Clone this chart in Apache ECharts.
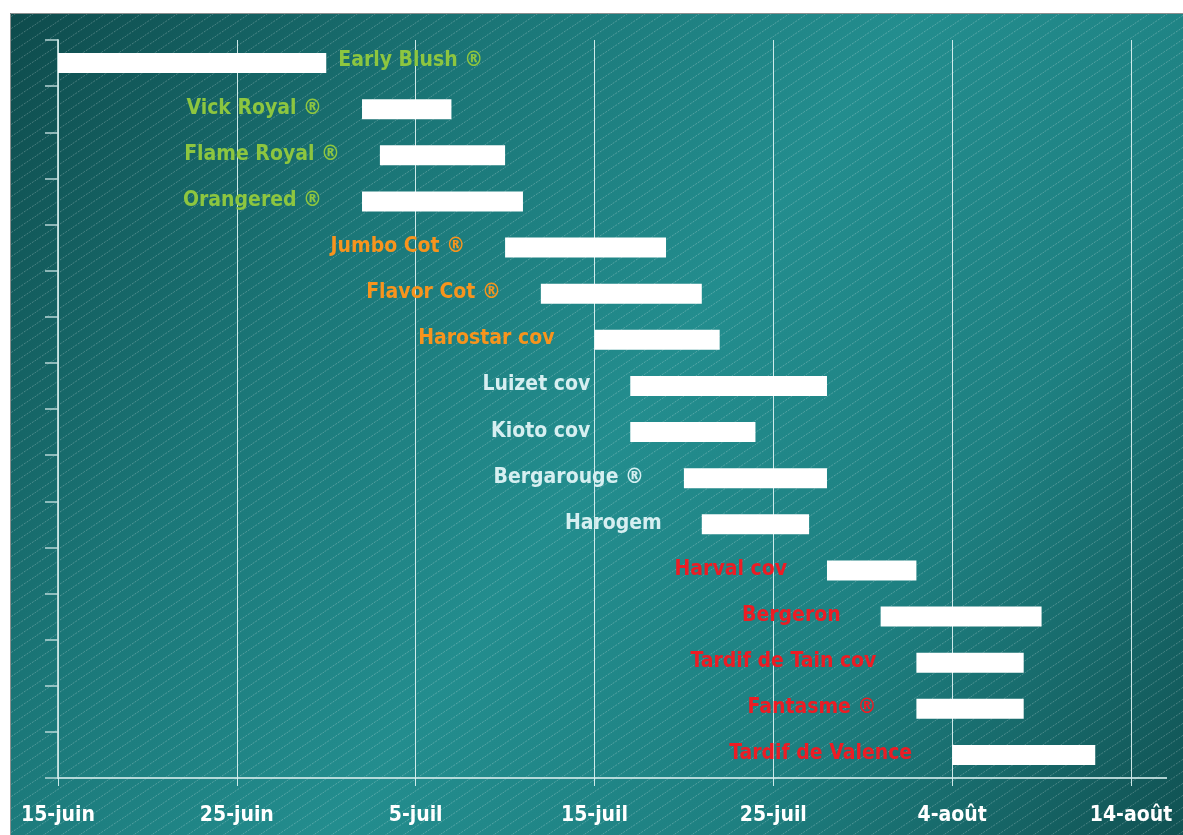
<!DOCTYPE html>
<html>
<head>
<meta charset="utf-8">
<script src="https://cdn.jsdelivr.net/npm/echarts@6/dist/echarts.min.js"></script>
<style>
html,body{margin:0;padding:0;background:#ffffff;}
#chart{width:1183px;height:835px;}
</style>
</head>
<body>
<div id="chart"></div>
<script>
// ---- data ----
const varieties = ['Early Blush ®','Vick Royal ®','Flame Royal ®','Orangered ®','Jumbo Cot ®','Flavor Cot ®','Harostar cov','Luizet cov','Kioto cov','Bergarouge ®','Harogem','Harval cov','Bergeron','Tardif de Tain cov','Fantasme ®','Tardif de Valence'];
const startDates = ['06-15','07-02','07-03','07-02','07-10','07-12','07-15','07-17','07-17','07-20','07-21','07-28','07-31','08-02','08-02','08-04'];
const endDates   = ['06-30','07-07','07-10','07-11','07-19','07-21','07-22','07-28','07-24','07-28','07-27','08-02','08-09','08-08','08-08','08-12'];
const groups     = ['g1','g1','g1','g1','g2','g2','g2','g3','g3','g3','g3','g4','g4','g4','g4','g4'];
const tickLabels = ['15-juin','25-juin','5-juil','15-juil','25-juil','4-août','14-août'];
const originDate = '06-15';

// ---- helpers ----
function dayNum(md){ const p = md.split('-'); return Date.UTC(2000, +p[0]-1, +p[1]) / 86400000; }
const d0 = dayNum(originDate);
const startOff = startDates.map(s => dayNum(s) - d0);
const durations = endDates.map((e,i) => dayNum(e) - dayNum(startDates[i]));

const groupColor = { g1:'#8dc63f', g2:'#f7941d', g3:'#d6eff1', g4:'#ed1c24' };
const FONT = "'Liberation Sans Narrow','DejaVu Sans Condensed','Arial Narrow',sans-serif";

// hatch pattern
const pc = document.createElement('canvas');
pc.width = 18; pc.height = 12;
const ctx = pc.getContext('2d');
ctx.strokeStyle = 'rgba(255,255,255,0.3)';
ctx.lineWidth = 0.8;
ctx.setLineDash([2,1.2]);
ctx.beginPath();
ctx.moveTo(-18, 24); ctx.lineTo(36, -12);
ctx.stroke();

const chart = echarts.init(document.getElementById('chart'), null, {renderer:'canvas'});

const GL = 58, GR = 52, GT = 40, GB = 57;

const option = {
  animation: false,
  backgroundColor: '#ffffff',
  graphic: [
    { type:'rect', z:-10, silent:true, shape:{x:10, y:13, width:1200, height:850},
      style:{ fill: new echarts.graphic.LinearGradient(0,0,1,1,[
        {offset:0, color:'#0e4b4c'},
        {offset:0.28, color:'#1b7778'},
        {offset:0.5, color:'#238d8e'},
        {offset:0.72, color:'#1e8081'},
        {offset:1, color:'#0f4d4e'}]) } },
    { type:'rect', z:-9, silent:true, shape:{x:10, y:13, width:1200, height:850},
      style:{ fill: {image: pc, repeat:'repeat'} } },
    { type:'rect', z:-8, silent:true, shape:{x:10.5, y:13.5, width:1200, height:850},
      style:{ fill:'none', stroke:'#8a8f8f', lineWidth:1 } },
    { type:'line', z:5, silent:true, shape:{x1:1183-GR, y1:835-GB, x2:1183-GR+36, y2:835-GB},
      style:{ stroke:'rgba(205,232,232,0.85)', lineWidth:2 } }
  ],
  grid: { left: GL, right: GR, top: GT, bottom: GB, containLabel:false },
  xAxis: {
    type:'value', min:0, max:60, interval:10,
    axisLine:{ show:true, lineStyle:{ color:'rgba(205,232,232,0.85)', width:2 } },
    axisTick:{ show:true, length:8, lineStyle:{ color:'rgba(225,245,245,0.9)', width:1 } },
    splitLine:{ show:true, lineStyle:{ color:'rgba(225,245,245,0.9)', width:1 } },
    axisLabel:{ color:'#ffffff', fontFamily:FONT, fontWeight:'bold', fontSize:21, margin:27,
      formatter: v => tickLabels[Math.round(v/10)] || '' }
  },
  yAxis: {
    type:'category', inverse:true, data: varieties,
    axisLine:{ show:true, lineStyle:{ color:'rgba(200,225,225,0.9)', width:2 } },
    axisTick:{ show:true, length:13, lineStyle:{ color:'rgba(200,225,225,0.9)', width:1.5 } },
    axisLabel:{ show:false },
    splitLine:{ show:false }
  },
  series: [
    { type:'bar', stack:'s', barWidth:20, silent:true,
      itemStyle:{ color:'transparent' },
      data: startOff },
    { type:'bar', stack:'s', barWidth:20, silent:true,
      itemStyle:{ color:'#ffffff' },
      data: durations.map((d,i) => ({
        value: d,
        label: {
          show:true,
          position: i === 0 ? 'right' : 'left',
          distance: i === 0 ? 12 : 40,
          offset: i === 0 ? [0,-3] : [0,-1],
          formatter: varieties[i],
          color: groupColor[groups[i]],
          fontFamily: FONT, fontWeight:'bold', fontSize:21
        }
      }))
    }
  ]
};
chart.setOption(option);
</script>
</body>
</html>
